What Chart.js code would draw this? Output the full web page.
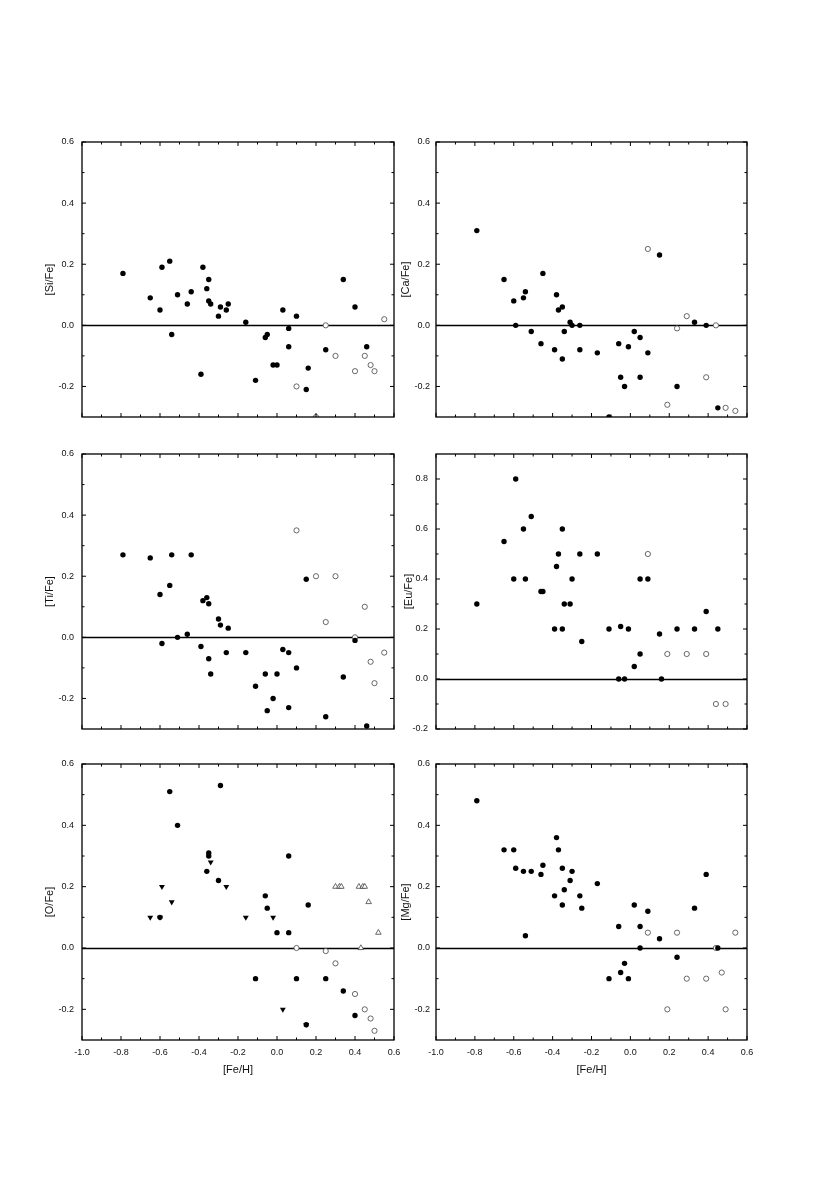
<!DOCTYPE html>
<html>
<head>
<meta charset="utf-8">
<script src="https://cdn.jsdelivr.net/npm/chart.js@4.4.1/dist/chart.umd.min.js"></script>
<style>
  body { margin: 0; background: #fff; width: 830px; height: 1182px; position: relative; overflow: hidden; }
  canvas { position: absolute; }
</style>
</head>
<body>
<canvas id="si"></canvas>
<canvas id="ca"></canvas>
<canvas id="ti"></canvas>
<canvas id="eu"></canvas>
<canvas id="o"></canvas>
<canvas id="mg"></canvas>
<script>
// tick labels
const xTicks = [-1.0, -0.8, -0.6, -0.4, -0.2, 0.0, 0.2, 0.4, 0.6];
const yTicksStd = [-0.2, 0.0, 0.2, 0.4, 0.6];
const yTicksEu = [-0.2, 0.0, 0.2, 0.4, 0.6, 0.8];

// [Si/Fe]
const siFeH = [-0.79, -0.65, -0.60, -0.59, -0.55, -0.54, -0.51, -0.46, -0.44, -0.39, -0.38, -0.36, -0.35, -0.35, -0.34, -0.30, -0.29, -0.26, -0.25, -0.16, -0.11, -0.06, -0.05, -0.02, 0.00, 0.03, 0.06, 0.06, 0.10, 0.15, 0.16, 0.25, 0.34, 0.40, 0.46];
const siFe = [0.17, 0.09, 0.05, 0.19, 0.21, -0.03, 0.10, 0.07, 0.11, -0.16, 0.19, 0.12, 0.15, 0.08, 0.07, 0.03, 0.06, 0.05, 0.07, 0.01, -0.18, -0.04, -0.03, -0.13, -0.13, 0.05, -0.01, -0.07, 0.03, -0.21, -0.14, -0.08, 0.15, 0.06, -0.07];
const siOpenFeH = [0.10, 0.20, 0.25, 0.30, 0.40, 0.45, 0.48, 0.50, 0.55];
const siOpen = [-0.20, -0.30, 0.00, -0.10, -0.15, -0.10, -0.13, -0.15, 0.02];

// [Ca/Fe]
const caFeH = [-0.79, -0.65, -0.60, -0.59, -0.55, -0.54, -0.51, -0.46, -0.45, -0.39, -0.38, -0.37, -0.35, -0.35, -0.34, -0.31, -0.30, -0.26, -0.26, -0.17, -0.11, -0.06, -0.05, -0.03, -0.01, 0.02, 0.05, 0.05, 0.09, 0.15, 0.24, 0.33, 0.39, 0.45];
const caFe = [0.31, 0.15, 0.08, 0.00, 0.09, 0.11, -0.02, -0.06, 0.17, -0.08, 0.10, 0.05, 0.06, -0.11, -0.02, 0.01, 0.00, 0.00, -0.08, -0.09, -0.30, -0.06, -0.17, -0.20, -0.07, -0.02, -0.04, -0.17, -0.09, 0.23, -0.20, 0.01, 0.00, -0.27];
const caOpenFeH = [0.09, 0.19, 0.24, 0.29, 0.39, 0.44, 0.49, 0.54];
const caOpen = [0.25, -0.26, -0.01, 0.03, -0.17, 0.00, -0.27, -0.28];

// [Ti/Fe]
const tiFeH = [-0.79, -0.65, -0.60, -0.59, -0.55, -0.54, -0.51, -0.46, -0.44, -0.39, -0.38, -0.36, -0.35, -0.35, -0.34, -0.30, -0.29, -0.26, -0.25, -0.16, -0.11, -0.06, -0.05, -0.02, 0.00, 0.03, 0.06, 0.06, 0.10, 0.15, 0.25, 0.34, 0.40, 0.46];
const tiFe = [0.27, 0.26, 0.14, -0.02, 0.17, 0.27, 0.00, 0.01, 0.27, -0.03, 0.12, 0.13, 0.11, -0.07, -0.12, 0.06, 0.04, -0.05, 0.03, -0.05, -0.16, -0.12, -0.24, -0.20, -0.12, -0.04, -0.05, -0.23, -0.10, 0.19, -0.26, -0.13, -0.01, -0.29];
const tiOpenFeH = [0.10, 0.20, 0.25, 0.30, 0.40, 0.45, 0.48, 0.50, 0.55];
const tiOpen = [0.35, 0.20, 0.05, 0.20, 0.00, 0.10, -0.08, -0.15, -0.05];

// [Eu/Fe]
const euFeH = [-0.79, -0.65, -0.60, -0.59, -0.55, -0.54, -0.51, -0.46, -0.45, -0.39, -0.38, -0.37, -0.35, -0.35, -0.34, -0.31, -0.30, -0.26, -0.25, -0.17, -0.11, -0.06, -0.05, -0.03, -0.01, 0.02, 0.05, 0.05, 0.09, 0.15, 0.16, 0.24, 0.33, 0.39, 0.45];
const euFe = [0.30, 0.55, 0.40, 0.80, 0.60, 0.40, 0.65, 0.35, 0.35, 0.20, 0.45, 0.50, 0.60, 0.20, 0.30, 0.30, 0.40, 0.50, 0.15, 0.50, 0.20, 0.00, 0.21, 0.00, 0.20, 0.05, 0.10, 0.40, 0.40, 0.18, 0.00, 0.20, 0.20, 0.27, 0.20];
const euOpenFeH = [0.09, 0.19, 0.29, 0.39, 0.44, 0.49];
const euOpen = [0.50, 0.10, 0.10, 0.10, -0.10, -0.10];

// [O/Fe]
const oFeH = [-0.60, -0.55, -0.51, -0.36, -0.35, -0.35, -0.30, -0.29, -0.11, -0.06, -0.05, 0.00, 0.06, 0.06, 0.10, 0.15, 0.16, 0.25, 0.34, 0.40];
const oFe = [0.10, 0.51, 0.40, 0.25, 0.31, 0.30, 0.22, 0.53, -0.10, 0.17, 0.13, 0.05, 0.05, 0.30, -0.10, -0.25, 0.14, -0.10, -0.14, -0.22];
const oTriFeH = [-0.65, -0.60, -0.59, -0.54, -0.34, -0.26, -0.16, -0.02, 0.03, 0.15];
const oTri = [0.10, 0.10, 0.20, 0.15, 0.28, 0.20, 0.10, 0.10, -0.20, -0.25];
const oOpenFeH = [0.10, 0.25, 0.30, 0.40, 0.45, 0.48, 0.50];
const oOpen = [0.00, -0.01, -0.05, -0.15, -0.20, -0.23, -0.27];
const oOpenTriFeH = [0.30, 0.32, 0.33, 0.42, 0.44, 0.45, 0.47, 0.52, 0.43];
const oOpenTri = [0.20, 0.20, 0.20, 0.20, 0.20, 0.20, 0.15, 0.05, 0.00];

// [Mg/Fe]
const mgFeH = [-0.79, -0.65, -0.60, -0.59, -0.55, -0.54, -0.51, -0.46, -0.45, -0.39, -0.38, -0.37, -0.35, -0.35, -0.34, -0.31, -0.30, -0.26, -0.25, -0.17, -0.11, -0.06, -0.05, -0.03, -0.01, 0.02, 0.05, 0.05, 0.09, 0.15, 0.24, 0.33, 0.39, 0.45];
const mgFe = [0.48, 0.32, 0.32, 0.26, 0.25, 0.04, 0.25, 0.24, 0.27, 0.17, 0.36, 0.32, 0.26, 0.14, 0.19, 0.22, 0.25, 0.17, 0.13, 0.21, -0.10, 0.07, -0.08, -0.05, -0.10, 0.14, 0.07, 0.00, 0.12, 0.03, -0.03, 0.13, 0.24, 0.00];
const mgOpenFeH = [0.09, 0.19, 0.24, 0.29, 0.39, 0.44, 0.47, 0.49, 0.54];
const mgOpen = [0.05, -0.20, 0.05, -0.10, -0.10, 0.00, -0.08, -0.20, 0.05];

Chart.defaults.font.family = '"Liberation Sans", Arial, sans-serif';
Chart.defaults.font.size = 9;
Chart.defaults.color = '#111';

const pts = (xs, ys) => xs.map((v, i) => ({ x: v, y: ys[i] }));

// marker styles
const filled = (xs, ys) => ({ data: pts(xs, ys), pointStyle: 'circle', pointRadius: 2.7, backgroundColor: '#000', borderColor: '#000', borderWidth: 0 });
const hollow = (xs, ys) => ({ data: pts(xs, ys), pointStyle: 'circle', pointRadius: 2.6, backgroundColor: '#fff', borderColor: '#444', borderWidth: 0.8 });
const triDown = (xs, ys) => ({ data: pts(xs, ys), pointStyle: 'triangle', rotation: 180, pointRadius: 3.4, backgroundColor: '#000', borderColor: '#000', borderWidth: 0 });
const triUp = (xs, ys) => ({ data: pts(xs, ys), pointStyle: 'triangle', pointRadius: 3.2, backgroundColor: '#fff', borderColor: '#444', borderWidth: 0.8 });

// frame, zero line and inward ticks on all four sides
const framePlugin = {
  id: 'frame',
  beforeDatasetsDraw(chart) {
    const { ctx, chartArea: a, scales: { y } } = chart;
    const y0 = Math.round(y.getPixelForValue(0)) + 0.5;
    ctx.save();
    ctx.strokeStyle = '#000';
    ctx.lineWidth = 1.6;
    ctx.beginPath();
    ctx.moveTo(a.left, y0);
    ctx.lineTo(a.right, y0);
    ctx.stroke();
    ctx.restore();
  },
  afterDraw(chart) {
    const { ctx, chartArea: a, scales: { x, y } } = chart;
    ctx.save();
    ctx.strokeStyle = '#000';
    ctx.lineWidth = 1.3;
    ctx.strokeRect(a.left, a.top, a.right - a.left, a.bottom - a.top);
    ctx.lineWidth = 1;
    const tick = (x1, y1, x2, y2) => { ctx.beginPath(); ctx.moveTo(x1, y1); ctx.lineTo(x2, y2); ctx.stroke(); };
    const xs = x.ticks.map(t => t.value);
    xs.forEach((v, i) => {
      const px = x.getPixelForValue(v);
      tick(px, a.bottom, px, a.bottom - 4);
      tick(px, a.top, px, a.top + 4);
      if (i < xs.length - 1) {
        const pm = x.getPixelForValue((v + xs[i + 1]) / 2);
        tick(pm, a.bottom, pm, a.bottom - 2.5);
        tick(pm, a.top, pm, a.top + 2.5);
      }
    });
    const ys = y.ticks.map(t => t.value);
    ys.forEach((v, i) => {
      const py = y.getPixelForValue(v);
      tick(a.left, py, a.left + 4, py);
      tick(a.right, py, a.right - 4, py);
      if (i < ys.length - 1) {
        const pm = y.getPixelForValue((v + ys[i + 1]) / 2);
        tick(a.left, pm, a.left + 2.5, pm);
        tick(a.right, pm, a.right - 2.5, pm);
      }
    });
    ctx.restore();
  }
};

const AXW = 46, PAD = 18;
function panel(id, box, yTitle, yMin, yMax, yTicks, datasets, showX, titlePad, tickPad) {
  const cv = document.getElementById(id);
  const w = box.r - box.l + AXW + PAD;
  const h = box.b - box.t + PAD + (showX ? 40 : PAD);
  cv.width = w; cv.height = h;
  cv.style.left = (box.l - AXW) + 'px';
  cv.style.top = (box.t - PAD) + 'px';
  return new Chart(cv, {
    type: 'scatter',
    data: { datasets },
    plugins: [framePlugin],
    options: {
      responsive: false,
      animation: false,
      layout: { padding: { left: 0, top: PAD, right: PAD, bottom: showX ? 0 : PAD } },
      plugins: { legend: { display: false }, tooltip: { enabled: false } },
      scales: {
        x: {
          type: 'linear', min: -1.0, max: 0.6,
          display: showX,
          afterBuildTicks: s => { s.ticks = xTicks.map(v => ({ value: v })); },
          afterFit: s => { s.height = showX ? 40 : 0; },
          ticks: { padding: 7, maxRotation: 0, autoSkip: false, callback: v => v.toFixed(1), font: { size: 9 } },
          grid: { display: false, drawTicks: false },
          border: { display: false },
          title: { display: showX, text: '[Fe/H]', font: { size: 11 }, padding: { top: 0, bottom: 3 } }
        },
        y: {
          type: 'linear', min: yMin, max: yMax,
          afterBuildTicks: s => { s.ticks = yTicks.map(v => ({ value: v })); },
          afterFit: s => { s.width = AXW; },
          ticks: { padding: tickPad, autoSkip: false, callback: v => v.toFixed(1), font: { size: 9 } },
          grid: { display: false, drawTicks: false },
          border: { display: false },
          title: { display: true, text: yTitle, font: { size: 11 }, padding: { top: titlePad, bottom: 0 } }
        }
      }
    }
  });
}

const colL = { l: 82, r: 394 }, colR = { l: 436, r: 747 };
const row1 = { t: 142, b: 417 }, row2 = { t: 454, b: 729 }, row3 = { t: 764, b: 1040 };

panel('si', { ...colL, ...row1 }, '[Si/Fe]', -0.3, 0.6, yTicksStd,
  [filled(siFeH, siFe), hollow(siOpenFeH, siOpen)], false, 7, 8);
panel('ca', { ...colR, ...row1 }, '[Ca/Fe]', -0.3, 0.6, yTicksStd,
  [filled(caFeH, caFe), hollow(caOpenFeH, caOpen)], false, 9, 6);
panel('ti', { ...colL, ...row2 }, '[Ti/Fe]', -0.3, 0.6, yTicksStd,
  [filled(tiFeH, tiFe), hollow(tiOpenFeH, tiOpen)], false, 7, 8);
panel('eu', { ...colR, ...row2 }, '[Eu/Fe]', -0.2, 0.9, yTicksEu,
  [filled(euFeH, euFe), hollow(euOpenFeH, euOpen)], false, 12, 8);
panel('o', { ...colL, ...row3 }, '[O/Fe]', -0.3, 0.6, yTicksStd,
  [filled(oFeH, oFe), triDown(oTriFeH, oTri), hollow(oOpenFeH, oOpen), triUp(oOpenTriFeH, oOpenTri)], true, 7, 8);
panel('mg', { ...colR, ...row3 }, '[Mg/Fe]', -0.3, 0.6, yTicksStd,
  [filled(mgFeH, mgFe), hollow(mgOpenFeH, mgOpen)], true, 9, 6);
</script>
</body>
</html>
